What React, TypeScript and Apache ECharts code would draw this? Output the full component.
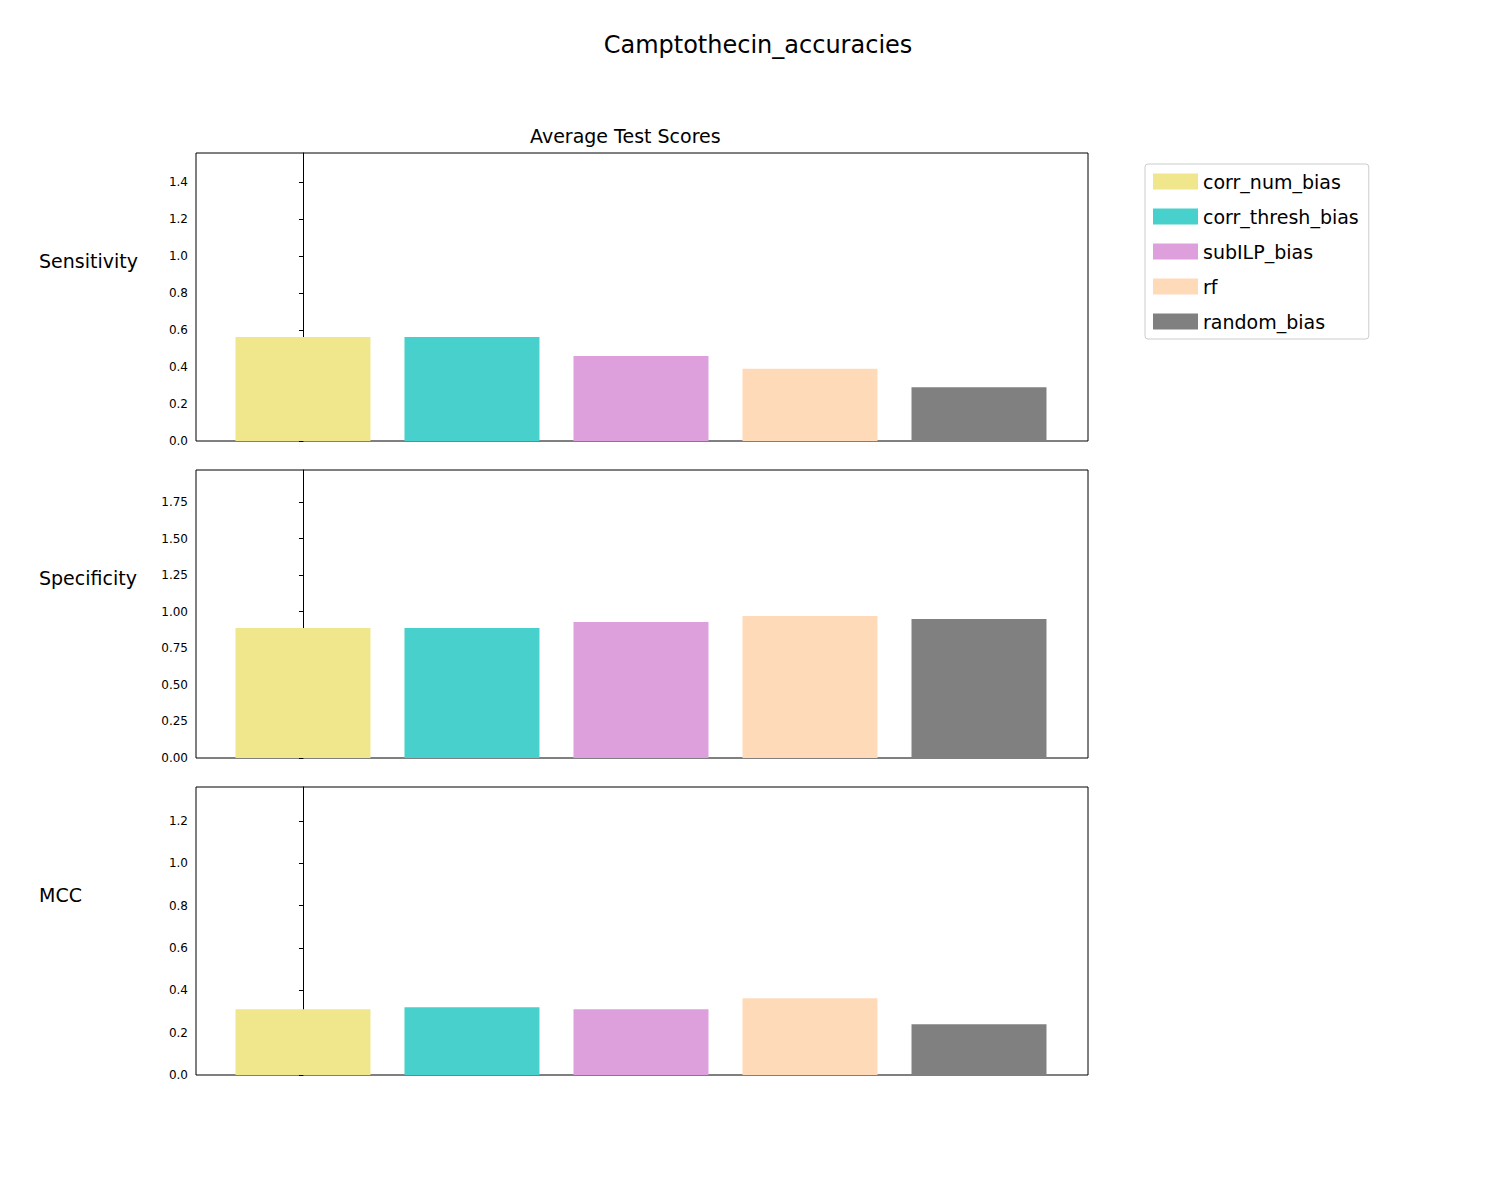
import { useEffect, useRef } from "react";
import * as echarts from "echarts";

const methods = ["corr_num_bias", "corr_thresh_bias", "subILP_bias", "rf", "random_bias"];
const colors = ["#F0E68C", "#48D1CC", "#DDA0DD", "#FFDAB9", "#808080"];
const metrics = ["Sensitivity", "Specificity", "MCC"];
const sensitivity = [0.562, 0.562, 0.46, 0.39, 0.29];
const specificity = [0.889, 0.889, 0.93, 0.97, 0.95];
const mcc = [0.31, 0.32, 0.31, 0.362, 0.24];
const yMax = [1.557, 1.969, 1.36];
const yStep = [0.2, 0.25, 0.2];
const yDigits = [1, 2, 1];

export default function App() {
  const ref = useRef<HTMLDivElement>(null);
  useEffect(() => {
    if (!ref.current) return;
    const chart = echarts.init(ref.current, null, { renderer: "svg" });
    const values = [sensitivity, specificity, mcc];
    const tops = [145, 462, 779];
    const grid = tops.map((t) => ({
      left: 188, width: 892, top: t, height: 288,
      show: true, borderColor: "#000", borderWidth: 1, backgroundColor: "#fff",
    }));
    const xAxis = tops.map((_, i) => ({
      type: "value", gridIndex: i, min: -0.633, max: 4.645, show: false,
    }));
    const yAxis = tops.map((_, i) => ({
      type: "value", gridIndex: i, min: 0, max: yMax[i], interval: yStep[i],
      axisLine: { show: true, lineStyle: { color: "#000" } },
      axisTick: { show: true, length: 4, lineStyle: { color: "#000" } },
      splitLine: { show: false },
      axisLabel: {
        color: "#000", fontSize: 12, fontFamily: "DejaVu Sans", showMaxLabel: false,
        formatter: (v: number) => v.toFixed(yDigits[i]),
      },
    }));
    const series: any[] = [];
    values.forEach((vals, g) => {
      methods.forEach((m, k) => {
        series.push({
          type: "bar", name: m, xAxisIndex: g, yAxisIndex: g,
          barWidth: 135, barGap: "-100%",
          itemStyle: { color: colors[k] },
          data: [[k, vals[k]]],
        });
      });
    });
    const graphic: any[] = metrics.map((m, i) => ({
      type: "text", left: 31, top: [253, 570, 887][i] - 10,
      style: { text: m, fontSize: 19, fontFamily: "DejaVu Sans", fill: "#000" },
    }));
    graphic.push({
      type: "text", left: 522, top: 118,
      style: { text: "Average Test Scores", fontSize: 19, fontFamily: "DejaVu Sans", fill: "#000" },
    });
    chart.setOption({
      animation: false,
      backgroundColor: "#fff",
      title: {
        text: "Camptothecin_accuracies", left: "center", top: 20,
        textStyle: { fontSize: 24, fontWeight: "normal", fontFamily: "DejaVu Sans", color: "#000" },
      },
      legend: {
        data: methods, orient: "vertical", left: 1137, top: 156,
        itemWidth: 45, itemHeight: 16, itemGap: 16,
        icon: "rect", borderColor: "#ccc", borderWidth: 1, borderRadius: 3,
        padding: [8, 10, 8, 8],
        textStyle: { fontSize: 19, fontFamily: "DejaVu Sans", color: "#000" },
      },
      grid, xAxis, yAxis, series, graphic,
    });
    return () => chart.dispose();
  }, []);
  return <div ref={ref} style={{ width: 1500, height: 1200 }} />;
}
